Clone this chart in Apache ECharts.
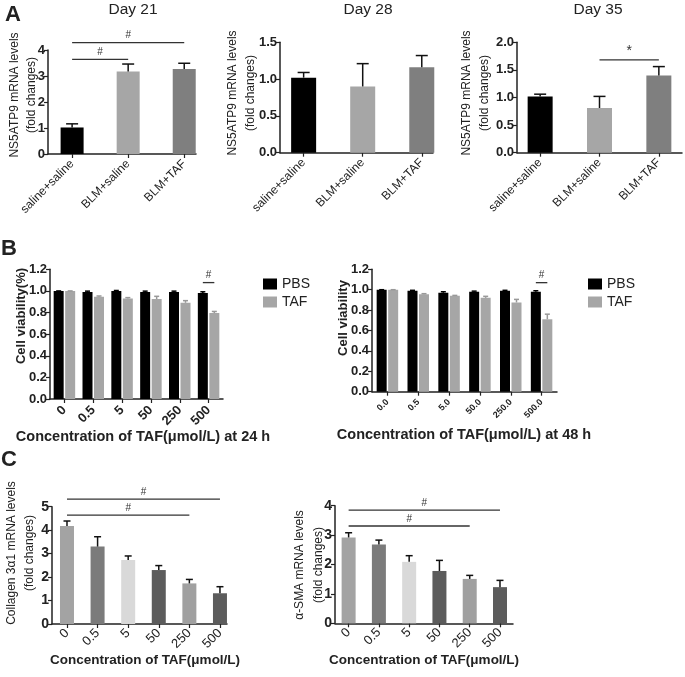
<!DOCTYPE html>
<html>
<head>
<meta charset="utf-8">
<script src="https://cdn.jsdelivr.net/npm/echarts@6/dist/echarts.min.js"></script>
<style>html,body{margin:0;padding:0;background:#fff;}#c{width:685px;height:677px;}</style>
</head>
<body>
<div id="c"></div>
<script>
// ---------------- DATA ----------------
// Panel A: NS5ATP9 mRNA levels (fold changes)
const groupsA = ['saline+saline', 'BLM+saline', 'BLM+TAF'];
const day21Mean = [1.02, 3.17, 3.27];
const day21Sem  = [0.14, 0.29, 0.22];
const day28Mean = [1.02, 0.90, 1.16];
const day28Sem  = [0.07, 0.31, 0.16];
const day35Mean = [1.02, 0.81, 1.40];
const day35Sem  = [0.04, 0.21, 0.16];
const yTicksA21 = [0, 1, 2, 3, 4];
const yTicksA28 = [0, 0.5, 1.0, 1.5];
const yTicksA35 = [0, 0.5, 1.0, 1.5, 2.0];
// significance brackets: [fromCategory, toCategory, level]
const sigA21Pairs = [[0, 2, 4.28], [0, 1, 3.64]];
const sigA21Marks = ['#', '#'];
const sigA35Pairs = [[1, 2, 1.68]];
const sigA35Marks = ['*'];

// Panel B: cell viability
const conc24 = ['0', '0.5', '5', '50', '250', '500'];
const conc48 = ['0.0', '0.5', '5.0', '50.0', '250.0', '500.0'];
const pbs24Mean = [1.00, 0.99, 1.00, 0.99, 0.99, 0.98];
const pbs24Sem  = [0.00, 0.008, 0.004, 0.008, 0.008, 0.012];
const taf24Mean = [1.00, 0.945, 0.93, 0.925, 0.89, 0.795];
const taf24Sem  = [0.00, 0.008, 0.008, 0.025, 0.02, 0.015];
const pbs48Mean = [1.00, 0.99, 0.97, 0.98, 0.99, 0.98];
const pbs48Sem  = [0.00, 0.004, 0.01, 0.006, 0.004, 0.01];
const taf48Mean = [1.00, 0.955, 0.94, 0.92, 0.875, 0.71];
const taf48Sem  = [0.00, 0.006, 0.004, 0.015, 0.03, 0.05];
const yTicksB = [0, 0.2, 0.4, 0.6, 0.8, 1.0, 1.2];
const sigB24Pairs = [[5, 5, 1.077]];
const sigB48Pairs = [[5, 5, 1.069]];
const sigBMarks = ['#'];

// Panel C: fibrosis markers
const concC = ['0', '0.5', '5', '50', '250', '500'];
const col3a1Mean = [4.18, 3.30, 2.73, 2.30, 1.73, 1.31];
const col3a1Sem  = [0.21, 0.42, 0.17, 0.19, 0.17, 0.28];
const asmaMean   = [2.92, 2.68, 2.09, 1.78, 1.51, 1.23];
const asmaSem    = [0.16, 0.15, 0.21, 0.36, 0.12, 0.23];
const yTicksC1 = [0, 1, 2, 3, 4, 5];
const yTicksC2 = [0, 1, 2, 3, 4];
const sigC1Pairs = [[0, 5, 5.32], [0, 4, 4.64]];
const sigC2Pairs = [[0, 5, 3.85], [0, 4, 3.31]];
const sigCMarks = ['#', '#'];

// ---------------- STYLE ----------------
const FONT = "'Liberation Sans', Arial, Helvetica, sans-serif";
const AX = '#222';
const colorsA = ['#000000', '#a6a6a6', '#7f7f7f'];
const colorsC = ['#a3a3a3', '#7b7b7b', '#d9d9d9', '#5c5c5c', '#a0a0a0', '#5c5c5c'];
const colPBS = '#000000', colTAF = '#a6a6a6';

const chart = echarts.init(document.getElementById('c'), null, {renderer: 'canvas'});

const grids = [
  {left: 48, top: 50, width: 148, height: 104},
  {left: 280, top: 42.3, width: 153, height: 110.4},
  {left: 517, top: 42.3, width: 165, height: 110.4},
  {left: 50, top: 269.3, width: 173, height: 129.7},
  {left: 372, top: 269.3, width: 185, height: 122.4},
  {left: 52, top: 506.7, width: 175, height: 117.3},
  {left: 335, top: 505.7, width: 178, height: 117.6}
];

function idx(n) { return Array.from({length: n}, (_, i) => i); }

function valueX(gi, min, max, cats, fs, margin) {
  const cv = idx(cats.length);
  return {
    type: 'value', gridIndex: gi, min: min, max: max,
    axisLine: {show: true, onZero: false, lineStyle: {color: AX, width: 1.5}},
    axisTick: {show: true, customValues: cv, length: 4, lineStyle: {color: AX, width: 1.2}},
    axisLabel: {show: true, customValues: cv, rotate: 45, margin: margin,
      formatter: v => cats[Math.round(v)] || '',
      fontFamily: FONT, fontSize: fs, fontWeight: 'normal', color: AX},
    splitLine: {show: false}
  };
}
function catX(gi, cats, fs, margin) {
  return {
    type: 'category', gridIndex: gi, data: cats,
    axisLine: {show: true, onZero: false, lineStyle: {color: AX, width: 1.5}},
    axisTick: {show: true, alignWithLabel: true, length: 4, lineStyle: {color: AX, width: 1.2}},
    axisLabel: {rotate: 45, margin: margin, interval: 0, fontFamily: FONT, fontSize: fs, fontWeight: 'bold', color: AX},
    splitLine: {show: false}
  };
}
function valY(gi, ticks, dec, fs) {
  const step = ticks[1] - ticks[0];
  return {
    type: 'value', gridIndex: gi, min: ticks[0], max: ticks[ticks.length - 1], interval: step,
    axisLine: {show: true, onZero: false, lineStyle: {color: AX, width: 1.5}},
    axisTick: {show: true, length: 4, lineStyle: {color: AX, width: 1.2}},
    axisLabel: {formatter: v => v.toFixed(dec), margin: 3, fontFamily: FONT, fontSize: fs, fontWeight: 'bold', color: AX},
    splitLine: {show: false}
  };
}

function errRender(offset, capHalf, color, lw) {
  return function (params, api) {
    const x = api.value(0), m = api.value(1), s = api.value(2);
    const p0 = api.coord([x, m]);
    const p1 = api.coord([x, m + s]);
    const cx = p0[0] + offset;
    return {type: 'group', children: [
      {type: 'line', shape: {x1: cx, y1: p0[1], x2: cx, y2: p1[1]}, style: {stroke: color, lineWidth: lw}},
      {type: 'line', shape: {x1: cx - capHalf, y1: p1[1], x2: cx + capHalf, y2: p1[1]}, style: {stroke: color, lineWidth: lw}}
    ]};
  };
}
function errSeries(gi, means, sems, offset, capHalf, color, lw) {
  return {
    type: 'custom', xAxisIndex: gi, yAxisIndex: gi, clip: false, z: 5,
    renderItem: errRender(offset, capHalf, color, lw),
    data: means.map((m, i) => [i, m, sems[i]])
  };
}
function sigSeries(gi, pairs, marks, offA, offB, fs) {
  return {
    type: 'custom', xAxisIndex: gi, yAxisIndex: gi, clip: false, z: 6,
    renderItem: function (params, api) {
      const a = api.coord([api.value(0), api.value(2)]);
      const b = api.coord([api.value(1), api.value(2)]);
      const x1 = a[0] + offA, x2 = b[0] + offB;
      return {type: 'group', children: [
        {type: 'line', shape: {x1: x1, y1: a[1], x2: x2, y2: a[1]}, style: {stroke: '#333', lineWidth: 1.3}},
        {type: 'text', x: (x1 + x2) / 2, y: a[1] - 2,
          style: {text: marks[params.dataIndex], fill: '#333', font: fs + 'px ' + FONT, align: 'center', verticalAlign: 'bottom'}}
      ]};
    },
    data: pairs
  };
}
function barValue(gi, means, width, colors) {
  return {
    type: 'bar', xAxisIndex: gi, yAxisIndex: gi, barWidth: width,
    data: means.map((m, i) => ({value: [i, m], itemStyle: {color: colors[i]}}))
  };
}
function barCat(gi, name, means, color) {
  return {
    type: 'bar', name: name, xAxisIndex: gi, yAxisIndex: gi, barWidth: 10, barGap: '15%',
    itemStyle: {color: color}, data: means
  };
}

function txt(x, y, text, size, weight, rot) {
  return {type: 'text', x: x, y: y, rotation: rot || 0,
    style: {text: text, font: (weight || 'normal') + ' ' + size + 'px ' + FONT, fill: '#222', align: 'center', verticalAlign: 'middle'}};
}
const R = Math.PI / 2;

const option = {
  animation: false,
  backgroundColor: '#fff',
  grid: grids,
  xAxis: [
    valueX(0, -0.43, 2.21, groupsA, 12, 8),
    valueX(1, -0.40, 2.19, groupsA, 12, 8),
    valueX(2, -0.39, 2.39, groupsA, 12, 8),
    catX(3, conc24, 13, 9),
    catX(4, conc48, 9, 9),
    valueX(5, -0.49, 5.23, concC, 13, 7),
    valueX(6, -0.45, 5.43, concC, 13, 7)
  ],
  yAxis: [
    valY(0, yTicksA21, 0, 13),
    valY(1, yTicksA28, 1, 13),
    valY(2, yTicksA35, 1, 13),
    valY(3, yTicksB, 1, 13),
    valY(4, yTicksB, 1, 13),
    valY(5, yTicksC1, 0, 14),
    valY(6, yTicksC2, 0, 14)
  ],
  legend: [
    {left: 258, top: 272, orient: 'vertical', icon: 'rect', itemWidth: 14, itemHeight: 11, itemGap: 4,
      data: ['PBS', 'TAF'], textStyle: {fontFamily: FONT, fontSize: 14, color: '#222'}},
    {left: 583, top: 272, orient: 'vertical', icon: 'rect', itemWidth: 14, itemHeight: 11, itemGap: 4,
      data: ['PBS', 'TAF'], textStyle: {fontFamily: FONT, fontSize: 14, color: '#222'}}
  ],
  series: [
    barValue(0, day21Mean, 23, colorsA),
    errSeries(0, day21Mean, day21Sem, 0, 6, '#111', 1.5),
    sigSeries(0, sigA21Pairs, sigA21Marks, 0, 0, 10),
    barValue(1, day28Mean, 25, colorsA),
    errSeries(1, day28Mean, day28Sem, 0, 6, '#111', 1.5),
    barValue(2, day35Mean, 25, colorsA),
    errSeries(2, day35Mean, day35Sem, 0, 6, '#111', 1.5),
    sigSeries(2, sigA35Pairs, sigA35Marks, 0, 0, 14),

    barCat(3, 'PBS', pbs24Mean, colPBS),
    barCat(3, 'TAF', taf24Mean, colTAF),
    errSeries(3, pbs24Mean, pbs24Sem, -5.75, 2.5, colPBS, 1.5),
    errSeries(3, taf24Mean, taf24Sem, 5.75, 2.5, '#999', 1.5),
    sigSeries(3, sigB24Pairs, sigBMarks, -5.75, 5.75, 10),
    barCat(4, 'PBS', pbs48Mean, colPBS),
    barCat(4, 'TAF', taf48Mean, colTAF),
    errSeries(4, pbs48Mean, pbs48Sem, -5.75, 2.5, colPBS, 1.5),
    errSeries(4, taf48Mean, taf48Sem, 5.75, 2.5, '#999', 1.5),
    sigSeries(4, sigB48Pairs, sigBMarks, -5.75, 5.75, 10),

    barValue(5, col3a1Mean, 14, colorsC),
    errSeries(5, col3a1Mean, col3a1Sem, 0, 3.5, '#111', 1.5),
    sigSeries(5, sigC1Pairs, sigCMarks, 0, 0, 10),
    barValue(6, asmaMean, 14, colorsC),
    errSeries(6, asmaMean, asmaSem, 0, 3.5, '#111', 1.5),
    sigSeries(6, sigC2Pairs, sigCMarks, 0, 0, 10)
  ],
  graphic: [
    txt(13, 15, 'A', 22, 'bold'),
    txt(9, 249, 'B', 22, 'bold'),
    txt(9, 460, 'C', 22, 'bold'),
    txt(133, 10, 'Day 21', 15.5),
    txt(368, 10, 'Day 28', 15.5),
    txt(598, 10, 'Day 35', 15.5),
    txt(15, 95, 'NS5ATP9 mRNA levels', 12, 'normal', R),
    txt(32, 95, '(fold changes)', 12, 'normal', R),
    txt(233, 93, 'NS5ATP9 mRNA levels', 12, 'normal', R),
    txt(251, 93, '(fold changes)', 12, 'normal', R),
    txt(467, 93, 'NS5ATP9 mRNA levels', 12, 'normal', R),
    txt(485, 93, '(fold changes)', 12, 'normal', R),
    txt(21, 316, 'Cell viability(%)', 13, 'bold', R),
    txt(343, 318, 'Cell viability', 13, 'bold', R),
    txt(143, 437, 'Concentration of TAF(μmol/L) at 24 h', 14.5, 'bold'),
    txt(464, 435, 'Concentration of TAF(μmol/L) at 48 h', 14.5, 'bold'),
    txt(12, 553, 'Collagen 3α1 mRNA levels', 12, 'normal', R),
    txt(30, 553, '(fold changes)', 12, 'normal', R),
    txt(300, 565, 'α-SMA mRNA levels', 12, 'normal', R),
    txt(319, 565, '(fold changes)', 12, 'normal', R),
    txt(145, 660, 'Concentration of TAF(μmol/L)', 13.5, 'bold'),
    txt(424, 660, 'Concentration of TAF(μmol/L)', 13.5, 'bold')
  ]
};
chart.setOption(option);
</script>
</body>
</html>
